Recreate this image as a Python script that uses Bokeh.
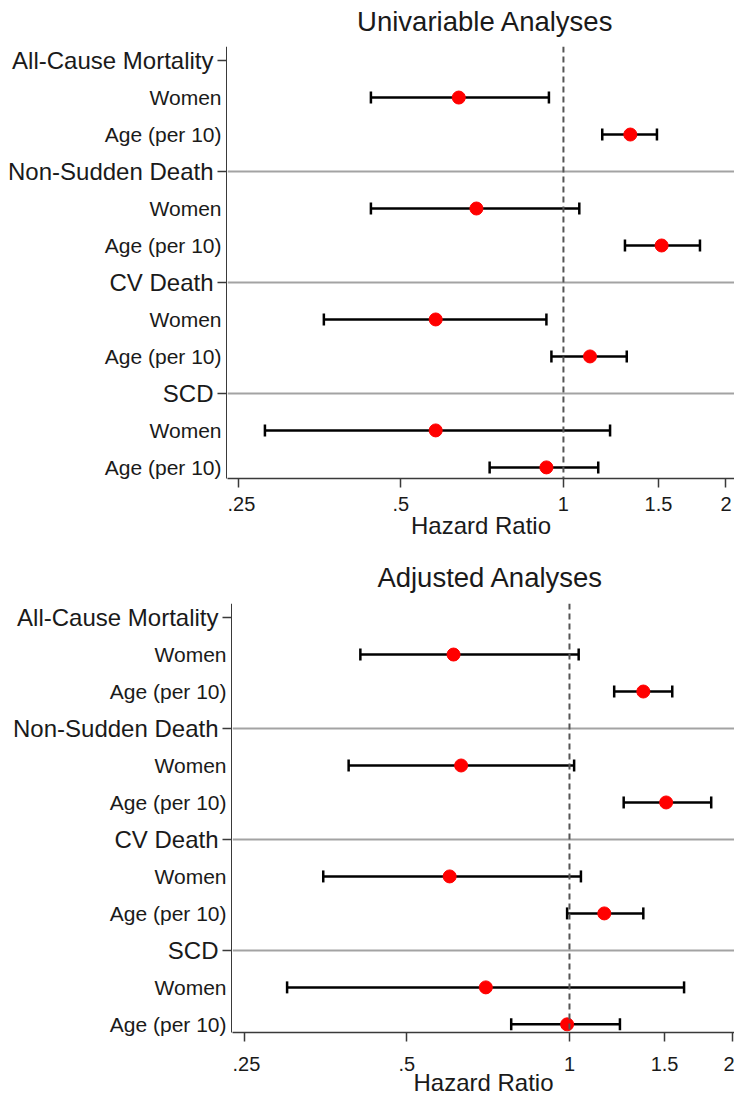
from bokeh.plotting import figure
from bokeh.layouts import column, row
from bokeh.models import (Range1d, FixedTicker, Span, Whisker, TeeHead,
                          ColumnDataSource)
from bokeh.core.properties import value
from bokeh.embed import file_html
from bokeh.resources import INLINE

# ---- data -------------------------------------------------------------
outcomes = ["All-Cause Mortality", "Non-Sudden Death", "CV Death", "SCD"]
predictors = ["Women", "Age (per 10)"]

# Univariable hazard ratios (point, lower 95% CI, upper 95% CI), one per outcome
uni_women_hr = [0.64, 0.69, 0.58, 0.58]
uni_women_lo = [0.44, 0.44, 0.36, 0.28]
uni_women_hi = [0.94, 1.07, 0.93, 1.22]
uni_age_hr = [1.33, 1.52, 1.12, 0.93]
uni_age_lo = [1.18, 1.30, 0.95, 0.73]
uni_age_hi = [1.49, 1.79, 1.31, 1.16]

# Adjusted hazard ratios
adj_women_hr = [0.61, 0.63, 0.60, 0.70]
adj_women_lo = [0.41, 0.39, 0.35, 0.30]
adj_women_hi = [1.04, 1.02, 1.05, 1.63]
adj_age_hr = [1.37, 1.51, 1.16, 0.99]
adj_age_lo = [1.21, 1.26, 0.99, 0.78]
adj_age_hi = [1.55, 1.83, 1.37, 1.24]

x_ticks = [0.25, 0.5, 1, 1.5, 2]
x_tick_labels = [".25", ".5", "1", "1.5", "2"]
null_hr = 1.0

FONT = "Liberation Sans"
TEXT = "#1a1a1a"
AXIS = "#3a3a3a"
SEP = "#a3a3a3"
WIDTH = 734


def build_rows(women, age):
    """Header rows for outcomes, two predictor rows beneath each."""
    women_hr, women_lo, women_hi = women
    age_hr, age_lo, age_hi = age
    header_rows = [3 * i for i in range(len(outcomes))]
    rows, hr, lo, hi, names = [], [], [], [], []
    for i in range(len(outcomes)):
        est = [(women_hr[i], women_lo[i], women_hi[i]),
               (age_hr[i], age_lo[i], age_hi[i])]
        for j, (h, l, u) in enumerate(est):
            rows.append(3 * i + 1 + j)
            hr.append(h)
            lo.append(l)
            hi.append(u)
            names.append(predictors[j])
    return header_rows, dict(row=rows, hr=hr, lo=lo, hi=hi, name=names)


def blank(fig):
    fig.outline_line_color = None
    fig.grid.visible = False
    fig.title.visible = False
    return fig


def title_strip(text, height, center_x, baseline):
    t = blank(figure(frame_width=WIDTH, frame_height=height,
                     x_range=Range1d(0, WIDTH), y_range=Range1d(0, height),
                     x_axis_location=None, y_axis_location=None,
                     output_backend="svg", toolbar_location=None,
                     min_border=0))
    t.text(x=[center_x], y=[baseline], text=[text], text_align="center",
           text_baseline="alphabetic", text_font=value(FONT),
           text_font_size="27.5px", text_color=TEXT)
    return t


def panel(women, age, x_start, x_end, y_bottom, y_top,
          label_w, frame_h, border_bottom, tick_standoff, label_standoff):
    header_rows, d = build_rows(women, age)
    frame_w = WIDTH - label_w
    px_per_row = frame_h / (y_bottom - y_top)
    pad = 24  # extra room under the last label row

    # ---- left strip with the row labels and the y axis ----
    lab = blank(figure(frame_width=label_w, frame_height=frame_h + pad,
                       x_range=Range1d(0, label_w),
                       y_range=Range1d(y_bottom + pad / px_per_row, y_top),
                       x_axis_location=None, y_axis_location=None,
                       output_backend="svg", toolbar_location=None,
                       min_border=0))
    hsrc = ColumnDataSource(dict(row=header_rows, name=outcomes,
                                 x=[label_w - 14] * len(header_rows),
                                 t0=[label_w - 10] * len(header_rows),
                                 t1=[label_w] * len(header_rows)))
    ssrc = ColumnDataSource(dict(row=d["row"], name=d["name"],
                                 x=[label_w - 6] * len(d["row"])))
    lab.text(x="x", y="row", text="name", source=hsrc,
             text_align="right", text_baseline="middle",
             text_font=value(FONT), text_font_size="24px", text_color=TEXT)
    lab.text(x="x", y="row", text="name", source=ssrc,
             text_align="right", text_baseline="middle",
             text_font=value(FONT), text_font_size="21px", text_color=TEXT)
    # header tick marks and the vertical axis line
    lab.segment(x0="t0", x1="t1", y0="row", y1="row", source=hsrc,
                line_color=AXIS, line_width=1.5)
    lab.segment(x0=[label_w], x1=[label_w], y0=[y_top], y1=[y_bottom],
                line_color=AXIS, line_width=3)

    # ---- forest plot ----
    src = ColumnDataSource(d)
    p = figure(frame_width=frame_w, frame_height=frame_h, x_axis_type="log",
               x_range=Range1d(x_start, x_end),
               y_range=Range1d(y_bottom, y_top),
               y_axis_location=None,
               output_backend="svg", toolbar_location=None,
               min_border_left=0, min_border_right=0,
               min_border_top=0, min_border_bottom=border_bottom)
    p.outline_line_color = None
    p.title.visible = False

    # separators between outcome blocks
    p.xgrid.visible = False
    p.ygrid.ticker = FixedTicker(ticks=header_rows[1:])
    p.ygrid.grid_line_color = SEP
    p.ygrid.grid_line_width = 2

    # x axis
    p.xaxis.ticker = FixedTicker(ticks=x_ticks)
    p.xaxis.major_label_overrides = dict(zip(x_ticks, x_tick_labels))
    p.xaxis.major_tick_out = 9
    p.xaxis.major_tick_in = 0
    p.xaxis.minor_tick_out = 0
    p.xaxis.minor_tick_in = 0
    p.xaxis.major_label_standoff = tick_standoff
    p.xaxis.major_label_text_font = FONT
    p.xaxis.major_label_text_font_size = "20px"
    p.xaxis.major_label_text_color = TEXT
    p.xaxis.axis_label = "Hazard Ratio"
    p.xaxis.axis_label_text_font = FONT
    p.xaxis.axis_label_text_font_size = "24px"
    p.xaxis.axis_label_text_font_style = "normal"
    p.xaxis.axis_label_text_color = TEXT
    p.xaxis.axis_label_standoff = label_standoff
    p.xaxis.axis_line_color = AXIS
    p.xaxis.axis_line_width = 1.5
    p.xaxis.major_tick_line_color = AXIS
    p.xaxis.major_tick_line_width = 1.5

    # reference line at HR = 1
    p.add_layout(Span(location=null_hr, dimension="height",
                      line_color="#555555", line_width=2, line_dash="6 4"))

    # confidence intervals
    p.add_layout(Whisker(base="row", lower="lo", upper="hi", source=src,
                         dimension="width", line_color="black", line_width=2.5,
                         lower_head=TeeHead(size=12, line_color="black", line_width=2.5),
                         upper_head=TeeHead(size=12, line_color="black", line_width=2.5)))

    # point estimates
    p.scatter("hr", "row", source=src, size=13, color="red", line_color="red")
    return row(lab, p, spacing=0)


top_title = title_strip("Univariable Analyses", 46, 485, 25)
top = panel((uni_women_hr, uni_women_lo, uni_women_hi),
            (uni_age_hr, uni_age_lo, uni_age_hi),
            x_start=0.2387, x_end=2.074, y_bottom=11.3, y_top=-0.38,
            label_w=227, frame_h=432, border_bottom=77,
            tick_standoff=9, label_standoff=-2)
bottom_title = title_strip("Adjusted Analyses", 48, 490, 26)
bottom = panel((adj_women_hr, adj_women_lo, adj_women_hi),
               (adj_age_hr, adj_age_lo, adj_age_hi),
               x_start=0.2377, x_end=2.021, y_bottom=11.22, y_top=-0.38,
               label_w=232, frame_h=429, border_bottom=63,
               tick_standoff=15, label_standoff=-5)

layout = column(top_title, top, bottom_title, bottom, spacing=0)
open("out.html", "w").write(file_html(layout, INLINE))
